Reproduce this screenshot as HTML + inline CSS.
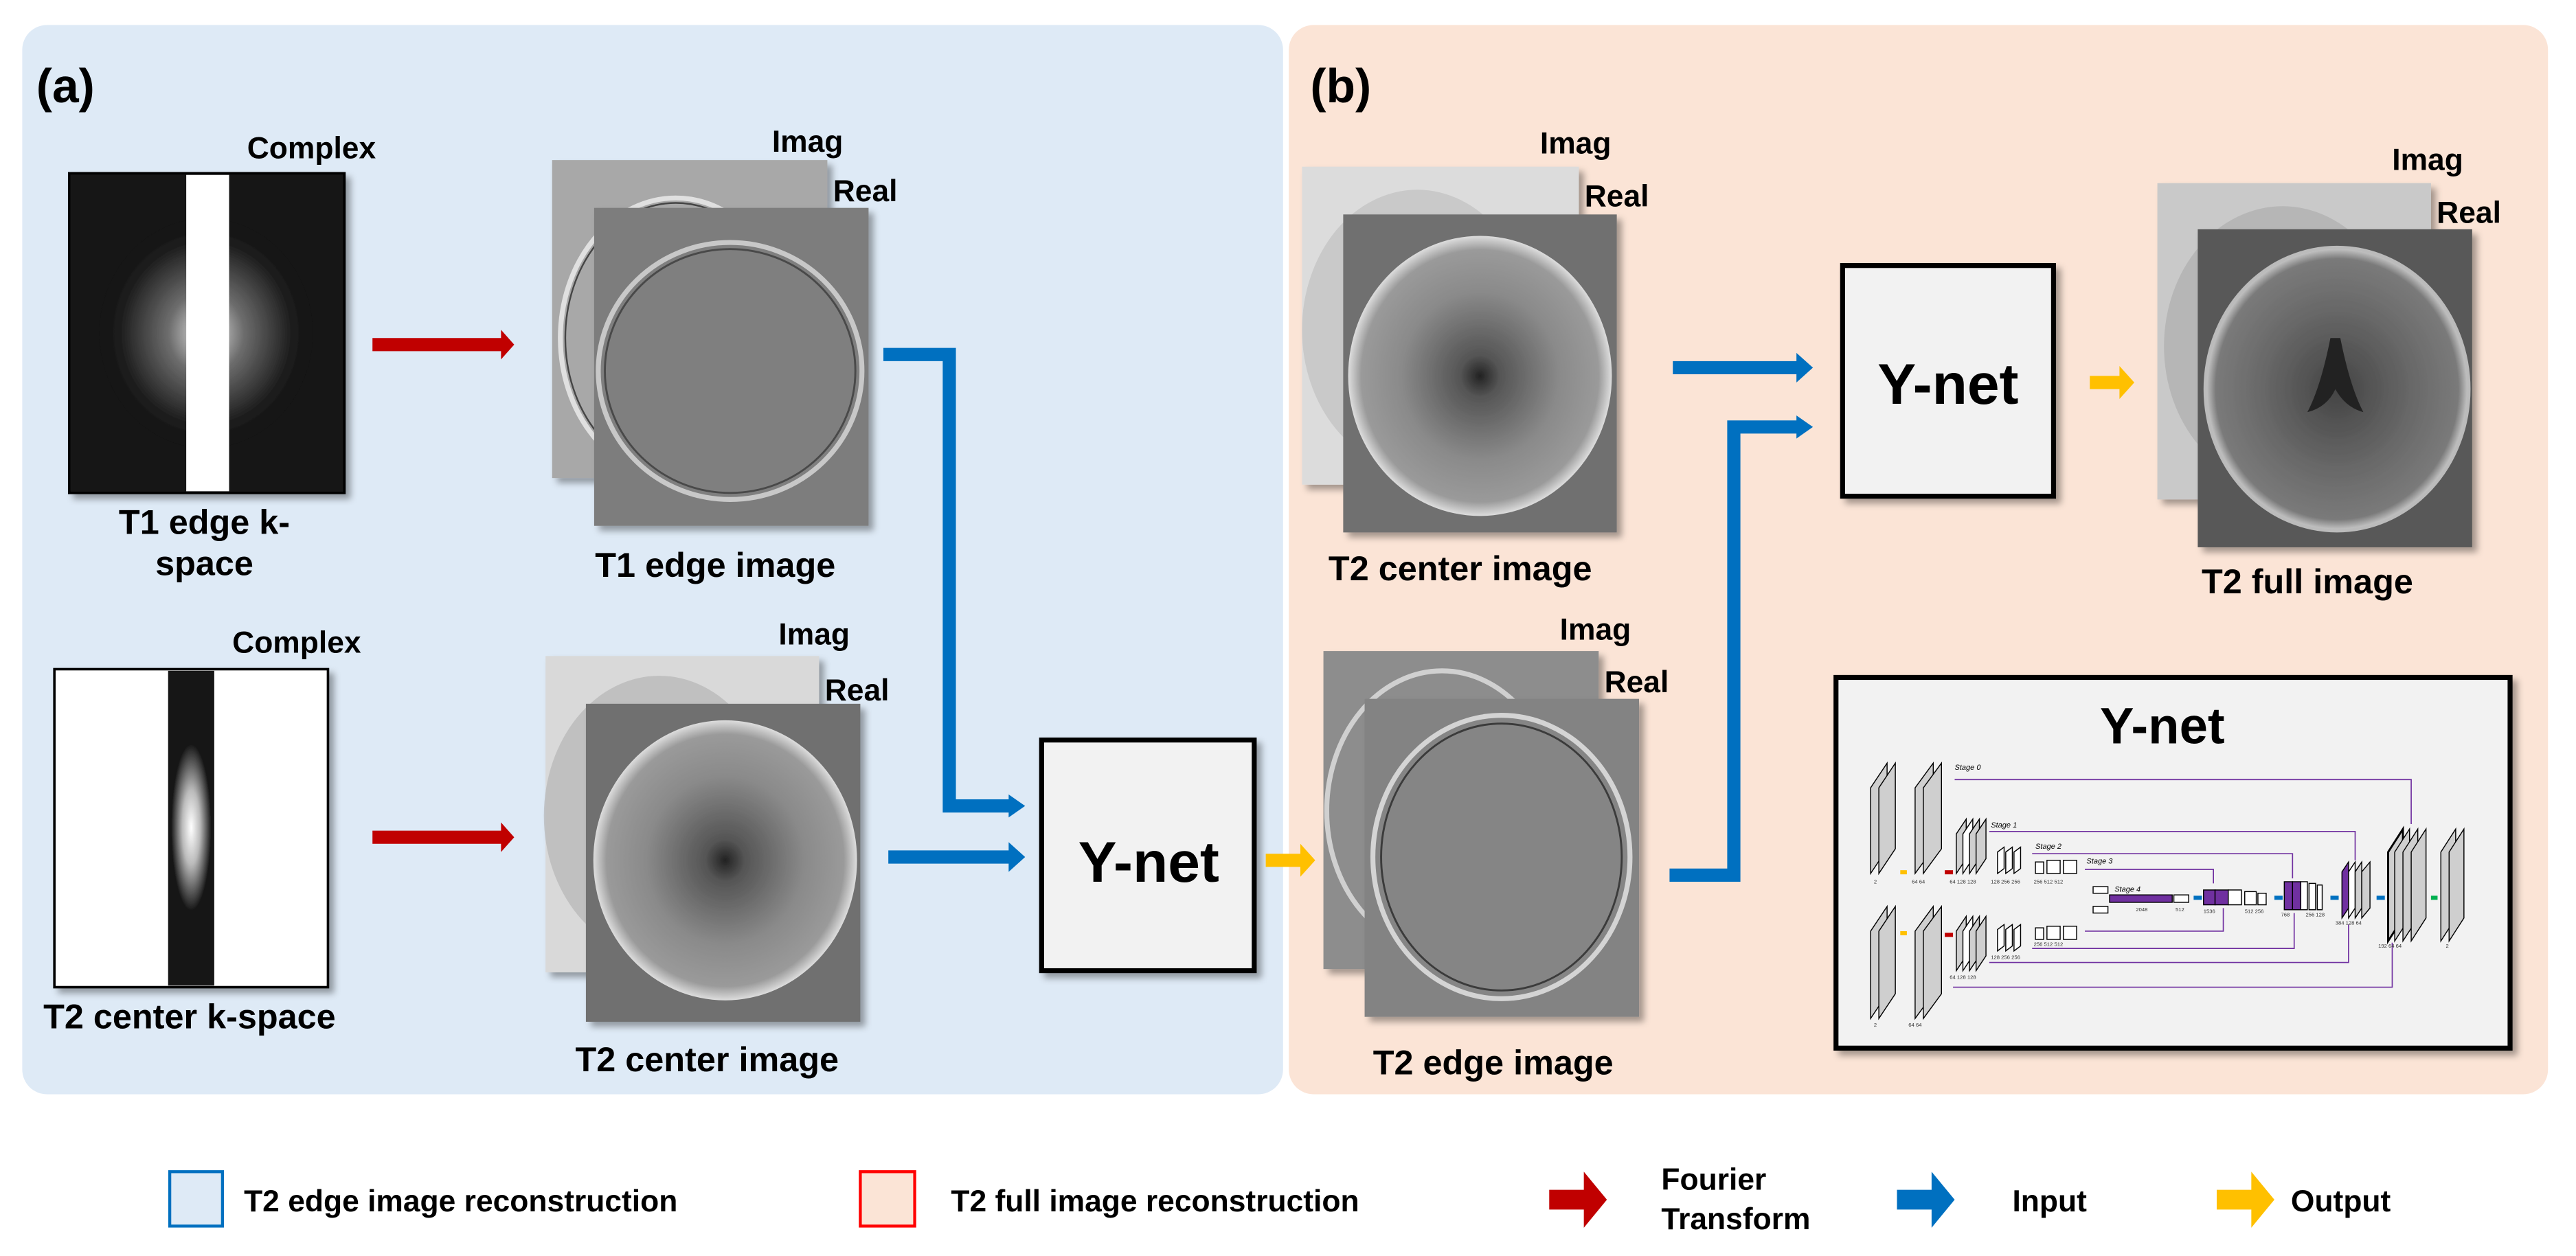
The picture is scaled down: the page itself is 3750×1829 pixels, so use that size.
<!DOCTYPE html>
<html><head><meta charset="utf-8"><style>
html,body{margin:0;padding:0;background:#fff;}
svg{display:block;}
text{font-family:"Liberation Sans","Noto Sans CJK KR",sans-serif;font-weight:bold;fill:#000;}
.sm{font-weight:normal;font-size:3.2px;fill:#333;}
.st{font-weight:normal;font-style:italic;font-size:4.6px;fill:#000;}
.lb{font-size:21px;}
.im{font-size:18.5px;}
</style></head><body>
<svg width="3750" height="1829" viewBox="0 0 1563 762" xmlns="http://www.w3.org/2000/svg">
<defs>
<filter id="sh" x="-10%" y="-10%" width="130%" height="130%"><feDropShadow dx="3" dy="3" stdDeviation="2" flood-color="#000" flood-opacity="0.35"/></filter>
<radialGradient id="ks1" cx="0.5" cy="0.5" r="0.5"><stop offset="0" stop-color="#fff"/><stop offset="0.35" stop-color="#777"/><stop offset="0.8" stop-color="#1e1e1e"/><stop offset="1" stop-color="#111"/></radialGradient>
<radialGradient id="ks2" cx="0.5" cy="0.5" r="0.5"><stop offset="0" stop-color="#fff"/><stop offset="0.45" stop-color="#bbb"/><stop offset="1" stop-color="#1a1a1a"/></radialGradient>
<radialGradient id="tc" cx="0.5" cy="0.5" r="0.5"><stop offset="0" stop-color="#222"/><stop offset="0.15" stop-color="#555"/><stop offset="0.6" stop-color="#8a8a8a"/><stop offset="0.9" stop-color="#9a9a9a"/><stop offset="1" stop-color="#ddd"/></radialGradient>
<radialGradient id="tf" cx="0.5" cy="0.5" r="0.5"><stop offset="0" stop-color="#444"/><stop offset="0.6" stop-color="#6a6a6a"/><stop offset="0.92" stop-color="#7a7a7a"/><stop offset="1" stop-color="#ccc"/></radialGradient>
</defs>
<rect width="1563" height="762" fill="#fff"/>
<!-- panels -->
<rect x="13.5" y="15" width="765" height="649" rx="15" fill="#deeaf6"/>
<rect x="782" y="15" width="764" height="649" rx="15" fill="#fbe4d6"/>
<text x="22" y="62" font-size="29">(a)</text>
<text x="795" y="62" font-size="29">(b)</text>

<!-- T1 k-space -->
<g filter="url(#sh)"><rect x="42" y="105" width="167" height="194" fill="#161616"/>
<ellipse cx="125" cy="202" rx="65" ry="70" fill="url(#ks1)" opacity="0.9"/>
<rect x="113" y="106" width="26" height="192" fill="#fff"/>
<rect x="42" y="105" width="167" height="194" fill="none" stroke="#000" stroke-width="1.5"/></g>
<text x="189" y="96" class="im" text-anchor="middle">Complex</text>
<text x="124" y="324" class="lb" text-anchor="middle">T1 edge k-</text>
<text x="124" y="349" class="lb" text-anchor="middle">space</text>

<!-- T2 k-space -->
<g filter="url(#sh)"><rect x="33" y="406" width="166" height="193" fill="#fff" stroke="#000" stroke-width="1.5"/>
<rect x="102" y="407" width="28" height="191" fill="#181818"/>
<ellipse cx="116" cy="502" rx="12" ry="50" fill="url(#ks2)"/></g>
<text x="180" y="396" class="im" text-anchor="middle">Complex</text>
<text x="115" y="624" class="lb" text-anchor="middle">T2 center k-space</text>

<!-- red arrows -->
<polygon points="226,205 304,205 304,200 312,209 304,218 304,213 226,213" fill="#c00000"/>
<polygon points="226,504 304,504 304,499 312,508 304,517 304,512 226,512" fill="#c00000"/>

<!-- T1 edge image -->
<g filter="url(#sh)"><rect x="335" y="97" width="167" height="193" fill="#a8a8a8"/>
<ellipse cx="410" cy="205" rx="70" ry="85" fill="none" stroke="#e0e0e0" stroke-width="3"/>
<ellipse cx="410" cy="205" rx="67" ry="82" fill="none" stroke="#444" stroke-width="1"/></g>
<g filter="url(#sh)"><rect x="360.5" y="126" width="166.5" height="193" fill="#7d7d7d"/>
<ellipse cx="443" cy="225" rx="80" ry="78" fill="#7f7f7f" stroke="#c8c8c8" stroke-width="3"/>
<ellipse cx="443" cy="225" rx="76" ry="74" fill="none" stroke="#4a4a4a" stroke-width="1.2"/></g>
<text x="490" y="92" class="im" text-anchor="middle">Imag</text>
<text x="525" y="122" class="im" text-anchor="middle">Real</text>
<text x="434" y="350" class="lb" text-anchor="middle">T1 edge image</text>

<!-- T2 center image (a) -->
<g filter="url(#sh)"><rect x="331" y="398" width="166" height="192" fill="#d9d9d9"/>
<ellipse cx="400" cy="495" rx="70" ry="85" fill="#b5b5b5" opacity="0.7"/></g>
<g filter="url(#sh)"><rect x="355.5" y="427" width="166.5" height="193" fill="#707070"/>
<ellipse cx="440" cy="522" rx="80" ry="85" fill="url(#tc)"/></g>
<text x="494" y="391" class="im" text-anchor="middle">Imag</text>
<text x="520" y="425" class="im" text-anchor="middle">Real</text>
<text x="429" y="650" class="lb" text-anchor="middle">T2 center image</text>

<!-- blue connectors a -->
<polyline points="536,215 576,215 576,489 613,489" fill="none" stroke="#0070c0" stroke-width="8"/>
<polygon points="612,482 622,489 612,496" fill="#0070c0"/>
<polygon points="539,516 612,516 612,511 622,520 612,529 612,524 539,524" fill="#0070c0"/>

<!-- Ynet a -->
<g filter="url(#sh)"><rect x="632" y="449" width="129" height="140" fill="#f2f2f2" stroke="#000" stroke-width="3"/></g>
<text x="697" y="535" font-size="35" text-anchor="middle">Y-net</text>
<polygon points="768,518 789,518 789,512 798,522 789,532 789,526 768,526" fill="#ffc000"/>

<!-- T2 center image (b) -->
<g filter="url(#sh)"><rect x="790" y="101" width="168" height="193" fill="#dcdcdc"/>
<ellipse cx="860" cy="200" rx="70" ry="85" fill="#bdbdbd" opacity="0.6"/></g>
<g filter="url(#sh)"><rect x="815" y="130" width="166" height="193" fill="#707070"/>
<ellipse cx="898" cy="228" rx="80" ry="85" fill="url(#tc)"/></g>
<text x="956" y="93" class="im" text-anchor="middle">Imag</text>
<text x="981" y="125" class="im" text-anchor="middle">Real</text>
<text x="886" y="352" class="lb" text-anchor="middle">T2 center image</text>

<!-- T2 edge image (b) -->
<g filter="url(#sh)"><rect x="803" y="395" width="167" height="193" fill="#8d8d8d"/>
<ellipse cx="875" cy="492" rx="70" ry="85" fill="none" stroke="#d0d0d0" stroke-width="3"/></g>
<g filter="url(#sh)"><rect x="828" y="424" width="166.5" height="193" fill="#838383"/>
<ellipse cx="911" cy="520" rx="78" ry="86" fill="#858585" stroke="#d4d4d4" stroke-width="3"/>
<ellipse cx="911" cy="520" rx="73" ry="81" fill="none" stroke="#3a3a3a" stroke-width="1.2"/></g>
<text x="968" y="388" class="im" text-anchor="middle">Imag</text>
<text x="993" y="420" class="im" text-anchor="middle">Real</text>
<text x="906" y="652" class="lb" text-anchor="middle">T2 edge image</text>

<!-- blue connectors b -->
<polygon points="1015,219 1090,219 1090,214 1100,223 1090,232 1090,227 1015,227" fill="#0070c0"/>
<polyline points="1013,531 1052,531 1052,259 1091,259" fill="none" stroke="#0070c0" stroke-width="8"/>
<polygon points="1090,252 1100,259 1090,266" fill="#0070c0"/>

<!-- Ynet b -->
<g filter="url(#sh)"><rect x="1118" y="161" width="128" height="140" fill="#f2f2f2" stroke="#000" stroke-width="3"/></g>
<text x="1182" y="245" font-size="35" text-anchor="middle">Y-net</text>
<polygon points="1268,228 1286,228 1286,222 1295,232 1286,242 1286,236 1268,236" fill="#ffc000"/>

<!-- T2 full image -->
<g filter="url(#sh)"><rect x="1309" y="111" width="166" height="192" fill="#c9c9c9"/>
<ellipse cx="1385" cy="210" rx="72" ry="85" fill="#aaa" opacity="0.6"/></g>
<g filter="url(#sh)"><rect x="1333.5" y="139" width="166.5" height="193" fill="#585858"/>
<ellipse cx="1418" cy="236" rx="80" ry="86" fill="url(#tf)" stroke="#bbb" stroke-width="2"/>
<path d="M1414 205 Q1408 235 1400 250 Q1412 247 1417 236 Q1423 247 1434 250 Q1426 235 1420 205 Z" fill="#222"/></g>
<text x="1473" y="103" class="im" text-anchor="middle">Imag</text>
<text x="1498" y="135" class="im" text-anchor="middle">Real</text>
<text x="1400" y="360" class="lb" text-anchor="middle">T2 full image</text>

<!-- big Ynet box -->
<g filter="url(#sh)"><rect x="1114" y="411" width="409" height="225" fill="#f2f2f2" stroke="#000" stroke-width="3"/></g>
<text x="1312" y="451" font-size="31" text-anchor="middle">Y-net</text>

<g stroke="#000" stroke-width="0.6" fill="#cfcfcf">
<polygon points="1135,530 1135,478 1145,463 1145,515"/><polygon points="1140,530 1140,478 1150,463 1150,515"/>
<polygon points="1162,530 1162,478 1173,463 1173,515"/><polygon points="1167,530 1167,478 1178,463 1178,515"/>
<polygon points="1187,530 1187,506 1193,497 1193,521"/><polygon points="1191,530 1191,506 1197,497 1197,521" fill="#fff"/><polygon points="1195,530 1195,506 1201,497 1201,521"/><polygon points="1199,530 1199,506 1205,497 1205,521"/>
<polygon points="1212,530 1212,517 1216,514 1216,527" fill="#fff"/><polygon points="1217,530 1217,517 1221,514 1221,527" fill="#fff"/><polygon points="1222,530 1222,517 1226,514 1226,527" fill="#fff"/>
<rect x="1235" y="523" width="5" height="7" fill="#fff"/><rect x="1242" y="522" width="8" height="8" fill="#fff"/><rect x="1252" y="522" width="8" height="8" fill="#fff"/>
<polygon points="1135,618 1135,565 1145,550 1145,603"/><polygon points="1140,618 1140,565 1150,550 1150,603"/>
<polygon points="1162,618 1162,565 1173,550 1173,603"/><polygon points="1167,618 1167,565 1178,550 1178,603"/>
<polygon points="1187,589 1187,565 1193,556 1193,580"/><polygon points="1191,589 1191,565 1197,556 1197,580" fill="#fff"/><polygon points="1195,589 1195,565 1201,556 1201,580"/><polygon points="1199,589 1199,565 1205,556 1205,580"/>
<polygon points="1212,577 1212,564 1216,561 1216,574" fill="#fff"/><polygon points="1217,577 1217,564 1221,561 1221,574" fill="#fff"/><polygon points="1222,577 1222,564 1226,561 1226,574" fill="#fff"/>
<rect x="1235" y="563" width="5" height="7" fill="#fff"/><rect x="1242" y="562" width="8" height="8" fill="#fff"/><rect x="1252" y="562" width="8" height="8" fill="#fff"/>
<rect x="1270" y="538" width="9" height="4" fill="#fff"/><rect x="1270" y="550" width="9" height="4" fill="#fff"/>
<rect x="1280" y="543" width="38" height="4.5" fill="#7030a0"/><rect x="1319" y="543" width="9" height="4.5" fill="#fff"/>
<rect x="1337" y="540" width="7" height="9" fill="#7030a0"/><rect x="1344" y="540" width="8" height="9" fill="#7030a0"/><rect x="1352" y="540" width="8" height="9" fill="#fff"/><rect x="1362" y="541" width="7" height="8" fill="#fff"/><rect x="1370" y="542" width="5" height="7" fill="#fff"/>
<rect x="1386" y="535" width="5" height="17" fill="#7030a0"/><rect x="1391" y="535" width="5" height="17" fill="#7030a0"/><rect x="1396" y="535" width="4" height="17" fill="#fff"/><rect x="1401" y="536" width="4" height="16" fill="#fff"/><rect x="1406" y="537" width="3" height="15" fill="#fff"/>
<polygon points="1421,557 1421,529 1425,523 1425,551" fill="#7030a0"/><polygon points="1425,557 1425,529 1429,523 1429,551" fill="#fff"/><polygon points="1429,557 1429,529 1433,523 1433,551"/><polygon points="1433,557 1433,529 1438,523 1438,551"/>
<polygon points="1449,571 1449,517 1458,503 1458,557" stroke-width="1.2"/><polygon points="1453,571 1453,517 1462,503 1462,557"/><polygon points="1458,571 1458,517 1467,503 1467,557"/><polygon points="1463,571 1463,517 1472,503 1472,557"/>
<polygon points="1481,571 1481,517 1490,503 1490,557"/><polygon points="1486,571 1486,517 1495,503 1495,557"/>
</g>
<g fill="none" stroke="#7030a0" stroke-width="0.7">
<polyline points="1186,473 1463,473 1463,500"/>
<polyline points="1207,504.5 1429,504.5 1429,522"/>
<polyline points="1233,518 1391,518 1391,533"/>
<polyline points="1265,527.5 1343,527.5 1343,536"/>
<polyline points="1265,565 1349,565 1349,551"/>
<polyline points="1233,575.5 1392,575.5 1392,554"/>
<polyline points="1207,584 1425,584 1425,561"/>
<polyline points="1185,599 1451.5,599 1451.5,572"/>
</g>
<g fill="#ffc000"><rect x="1153" y="528" width="4" height="2.5"/><rect x="1153" y="565" width="4" height="2.5"/></g>
<g fill="#c00000"><rect x="1180" y="528" width="5" height="2.5"/><rect x="1180" y="566" width="5" height="2.5"/></g>
<g fill="#0070c0"><rect x="1331" y="543.5" width="5" height="2.5"/><rect x="1380" y="543.5" width="5" height="2.5"/><rect x="1414" y="543.5" width="5" height="2.5"/><rect x="1442" y="543.5" width="5" height="2.5"/></g>
<rect x="1475" y="543.5" width="4" height="2.5" fill="#00b050"/>
<text x="1186" y="467" class="st">Stage 0</text><text x="1208" y="502" class="st">Stage 1</text>
<text x="1235" y="515" class="st">Stage 2</text><text x="1266" y="524" class="st">Stage 3</text><text x="1283" y="541" class="st">Stage 4</text>
<text x="1137" y="536" class="sm">2</text><text x="1160" y="536" class="sm">64 64</text><text x="1183" y="536" class="sm">64 128 128</text><text x="1208" y="536" class="sm">128 256 256</text><text x="1234" y="536" class="sm">256 512 512</text>
<text x="1137" y="623" class="sm">2</text><text x="1158" y="623" class="sm">64 64</text><text x="1183" y="594" class="sm">64 128 128</text><text x="1208" y="582" class="sm">128 256 256</text><text x="1234" y="574" class="sm">256 512 512</text>
<text x="1296" y="553" class="sm">2048</text><text x="1320" y="553" class="sm">512</text><text x="1337" y="554" class="sm">1536</text><text x="1362" y="554" class="sm">512 256</text><text x="1384" y="556" class="sm">768</text><text x="1399" y="556" class="sm">256 128</text><text x="1417" y="561" class="sm">384 128 64</text><text x="1443" y="575" class="sm">192 64 64</text><text x="1484" y="575" class="sm">2</text>

<!-- legend -->
<rect x="103" y="711" width="32" height="33" fill="#deeaf6" stroke="#0070c0" stroke-width="1.8"/>
<text x="148" y="735" font-size="18.5">T2 edge image reconstruction</text>
<rect x="522" y="711" width="33" height="33" fill="#fbe4d6" stroke="#ff0000" stroke-width="1.8"/>
<text x="577" y="735" font-size="18.5">T2 full image reconstruction</text>
<polygon points="940,722 961,722 961,711 975,728 961,745 961,734 940,734" fill="#c00000"/>
<text x="1008" y="722" font-size="18.5">Fourier</text><text x="1008" y="746" font-size="18.5">Transform</text>
<polygon points="1151,722 1172,722 1172,711 1186,728 1172,745 1172,734 1151,734" fill="#0070c0"/>
<text x="1221" y="735" font-size="18.5">Input</text>
<polygon points="1345,722 1366,722 1366,711 1380,728 1366,745 1366,734 1345,734" fill="#ffc000"/>
<text x="1390" y="735" font-size="18.5">Output</text>
</svg>
</body></html>
